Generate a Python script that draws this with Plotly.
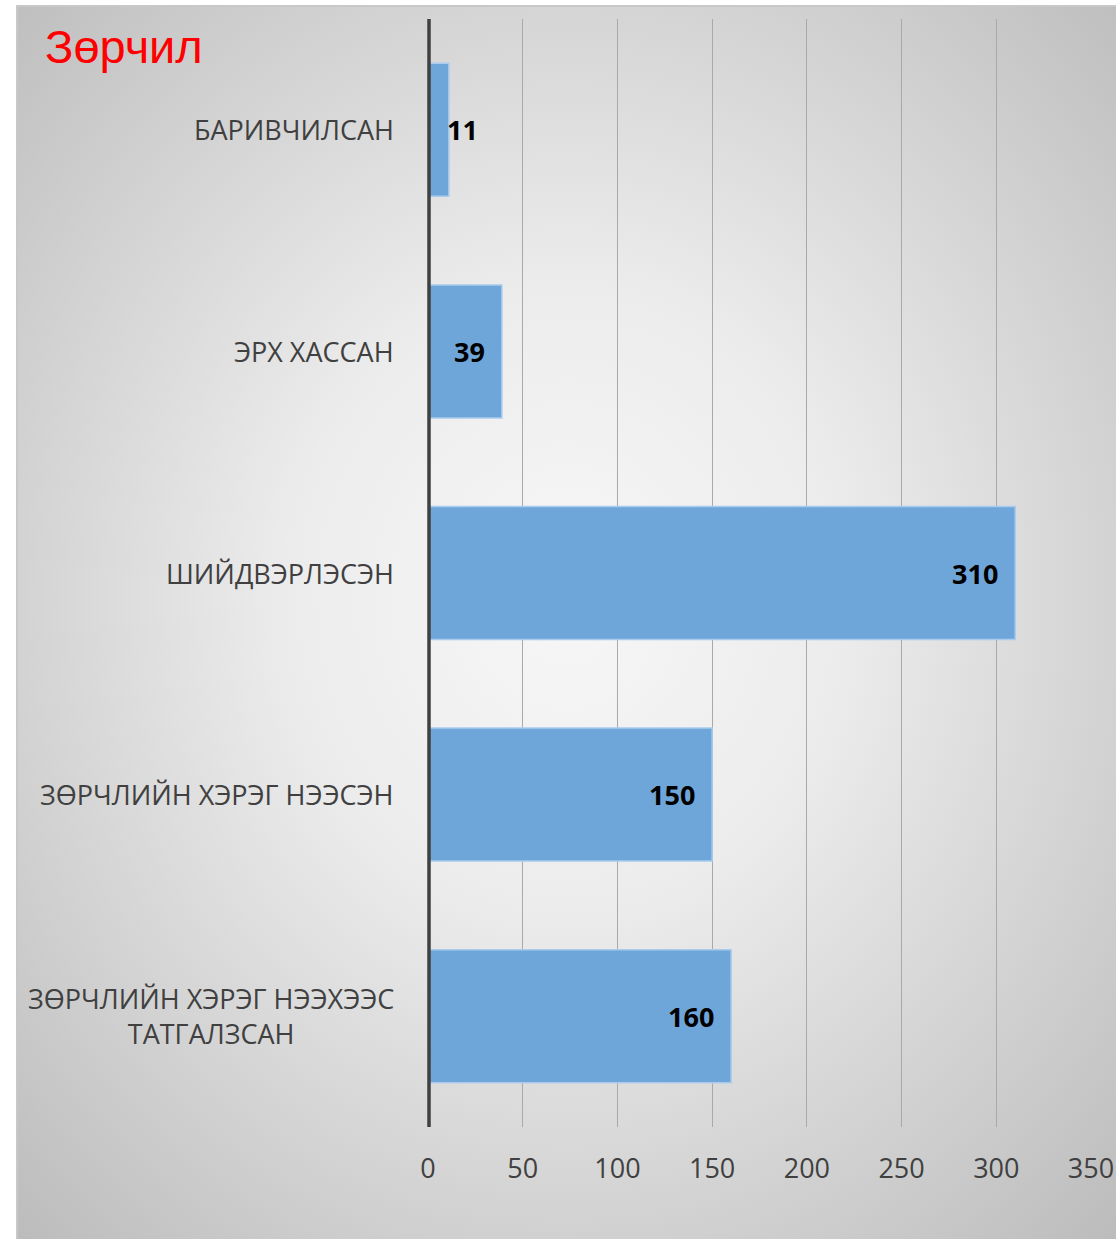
import base64
import plotly.graph_objects as go

# chart data
categories = ['БАРИВЧИЛСАН', 'ЭРХ ХАССАН', 'ШИЙДВЭРЛЭСЭН',
              'ЗӨРЧЛИЙН ХЭРЭГ НЭЭСЭН', 'ЗӨРЧЛИЙН ХЭРЭГ НЭЭХЭЭС<br>ТАТГАЛЗСАН']
values = [11, 39, 310, 150, 160]
x_ticks = [0, 50, 100, 150, 200, 250, 300, 350]
title_text = 'Зөрчил'

W, H = 1116, 1239
L, R, T, B = 428, 25, 19, 112
pw, ph = W - L - R, H - T - B

def px_x(x):
    return (x - L) / pw

def px_y(y):
    return (H - B - y) / ph

# radial grey background as an svg picture
svg = ('<svg xmlns="http://www.w3.org/2000/svg" width="1100" height="1234" '
       'preserveAspectRatio="none" viewBox="0 0 1100 1234">'
       '<defs><radialGradient id="g" cx="0.5" cy="0.48" r="0.72">'
       '<stop offset="0" stop-color="#f7f7f7"/>'
       '<stop offset="0.35" stop-color="#ececec"/>'
       '<stop offset="1" stop-color="#bcbcbc"/>'
       '</radialGradient></defs>'
       '<rect x="0" y="0" width="1100" height="1234" fill="url(#g)"/>'
       '<path d="M1,1234 L1,1 L1100,1" stroke="#c8c8c8" stroke-width="2" fill="none"/>'
       '</svg>')
bg_src = 'data:image/svg+xml;base64,' + base64.b64encode(svg.encode('utf-8')).decode()

fig = go.Figure()
fig.add_trace(go.Bar(
    y=list(range(len(categories))),
    x=values,
    orientation='h',
    marker=dict(color='#6fa6da', line=dict(color='#a8cbee', width=1.5)),
    hoverinfo='x',
))

# data labels, inside end (the tiny bar gets its label just outside)
annotations = []
for i, v in enumerate(values):
    small = v < 20
    annotations.append(dict(
        x=v, y=i, xref='x', yref='y', text='<b>%d</b>' % v, showarrow=False,
        xanchor='left' if small else 'right', xshift=-4 if small else -15,
        font=dict(family='Open Sans', size=27, color='#000000')))

# category labels, centred lines like the original
for i, c in enumerate(categories):
    annotations.append(dict(
        x=px_x(396), y=i, xref='paper', yref='y', text=c, showarrow=False,
        xanchor='right', align='center',
        font=dict(family='Open Sans', size=27, color='#404040')))

fig.update_layout(
    width=W, height=H,
    margin=dict(l=L, r=R, t=T, b=B, autoexpand=False),
    paper_bgcolor='white',
    plot_bgcolor='rgba(0,0,0,0)',
    bargap=0.4,
    showlegend=False,
    title=dict(text=title_text, xref='container', yref='container',
               x=45 / W, xanchor='left', y=1 - 47 / H, yanchor='middle',
               font=dict(family='Liberation Sans, Arial', size=47, color='#ff0000')),
    xaxis=dict(range=[0, 350], tickvals=x_ticks, ticktext=[str(t) for t in x_ticks],
               showgrid=True, gridcolor='#a9a9a9', gridwidth=1,
               zeroline=False, showline=False, ticks='', automargin=False,
               ticklabelstandoff=23,
               tickfont=dict(family='Open Sans', size=27, color='#404040')),
    yaxis=dict(range=[len(categories) - 0.5, -0.5], showticklabels=False,
               showgrid=False, zeroline=False, showline=False, ticks='',
               automargin=False),
    annotations=annotations,
    images=[dict(source=bg_src, xref='paper', yref='paper',
                 x=px_x(16), y=px_y(5), sizex=px_x(W) - px_x(16),
                 sizey=px_y(5) - px_y(H), xanchor='left', yanchor='top',
                 sizing='stretch', layer='below')],
    # value axis line (paper ref so it is not clipped at the plot edge)
    shapes=[dict(type='line', xref='paper', yref='paper', x0=px_x(429), x1=px_x(429),
                 y0=0, y1=1, line=dict(color='#404040', width=3.5))],
)

fig.write_html('out.html', config={'displayModeBar': False},
               post_script="document.body.style.margin='0';document.body.style.overflow='hidden';")
